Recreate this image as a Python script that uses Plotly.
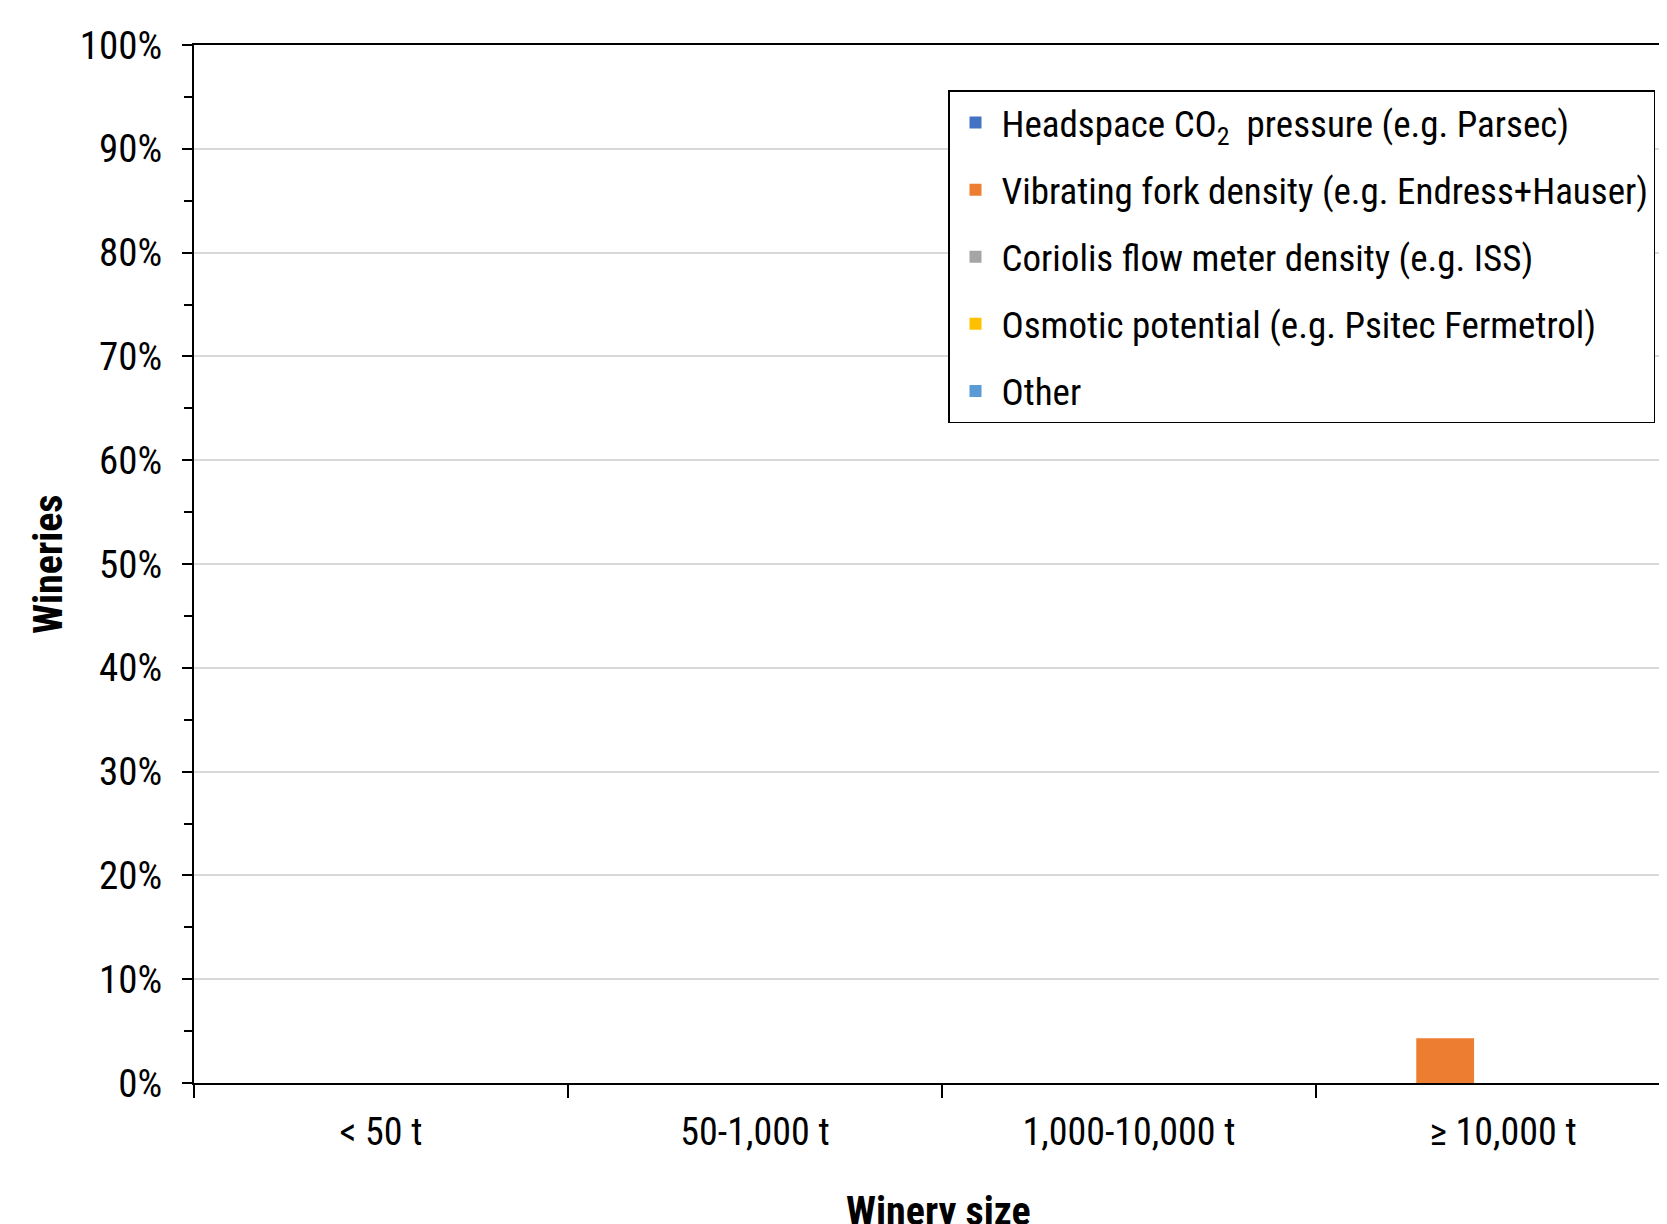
import plotly.graph_objects as go

categories = ["< 50 t", "50-1,000 t", "1,000-10,000 t", "≥ 10,000 t"]
series_names = [
    "Headspace CO<sub>2</sub>  pressure (e.g. Parsec)",
    "Vibrating fork density (e.g. Endress+Hauser)",
    "Coriolis flow meter density (e.g. ISS)",
    "Osmotic potential (e.g. Psitec Fermetrol)",
    "Other",
]
headspace_co2 = [0, 0, 0, 0]
vibrating_fork = [0, 0, 0, 4.3]
coriolis = [0, 0, 0, 0]
osmotic = [0, 0, 0, 0]
other = [0, 0, 0, 0]
series_values = [headspace_co2, vibrating_fork, coriolis, osmotic, other]
colors = ["#4472C4", "#ED7D31", "#A5A5A5", "#FFC000", "#5B9BD5"]

FONT = "Liberation Sans Narrow, Arial Narrow, Roboto Condensed, Liberation Sans, Arial, sans-serif"

fig = go.Figure()
for i, (name, vals) in enumerate(zip(series_names, series_values)):
    fig.add_trace(go.Bar(
        x=categories, y=vals, name=name,
        marker=dict(color=colors[i], line=dict(width=0)),
        legendgroup=f"g{i}",
    ))

# page body has an 8px margin; the figure is sized to fill the window exactly
W, H = 1659, 1216
L, T = 186, 36.5
plot_bottom = 1075
B = H - plot_bottom
R = 0
plot_w = W - L - R
plot_h = H - T - B
cat_w = 374.0
x_max = -0.5 + plot_w / cat_w

fig.update_layout(
    width=W, height=H,
    margin=dict(l=L, r=R, t=T, b=B, pad=0),
    paper_bgcolor="white", plot_bgcolor="white",
    barmode="group", bargap=0.227, bargroupgap=0,
    font=dict(family=FONT, size=38, color="black"),
    showlegend=True,
    legend=dict(
        x=(940 - L) / plot_w, y=(plot_bottom - 82) / plot_h,
        xanchor="left", yanchor="top",
        bordercolor="black", borderwidth=1.5, bgcolor="white",
        font=dict(family=FONT, size=37, color="black"),
        tracegroupgap=16,
        traceorder="grouped",
        itemwidth=42,
    ),
    xaxis=dict(
        type="category", range=[-0.5, x_max],
        showline=True, linecolor="black", linewidth=2, mirror=True,
        ticks="outside", tickson="boundaries", ticklen=13, tickwidth=1.5, tickcolor="black",
        showgrid=False, zeroline=False,
        ticklabelstandoff=14,
        tickfont=dict(family=FONT, size=38, color="black"),
    ),
    yaxis=dict(
        range=[0, 100], dtick=10, ticksuffix="%",
        showline=True, linecolor="black", linewidth=2,
        ticks="outside", ticklen=10, tickwidth=1.5, tickcolor="black",
        minor=dict(dtick=5, ticks="outside", ticklen=8, tickwidth=1.5, tickcolor="black", showgrid=False),
        showgrid=True, gridcolor="#D9D9D9", gridwidth=1.5,
        zeroline=False,
        ticklabelstandoff=12,
        tickfont=dict(family=FONT, size=39, color="black"),
    ),
    annotations=[
        dict(text="<b>Wineries</b>", xref="paper", yref="paper",
             x=(40 - L) / plot_w, y=0.5, xanchor="center", yanchor="middle",
             textangle=-90, showarrow=False, font=dict(family=FONT, size=40, color="black")),
        dict(text="<b>Winery size</b>", xref="paper", yref="paper",
             x=(930 - L) / plot_w, y=-(1204 - plot_bottom) / plot_h, xanchor="center", yanchor="middle",
             showarrow=False, font=dict(family=FONT, size=40, color="black")),
    ],
)

fig.write_html("out.html")
